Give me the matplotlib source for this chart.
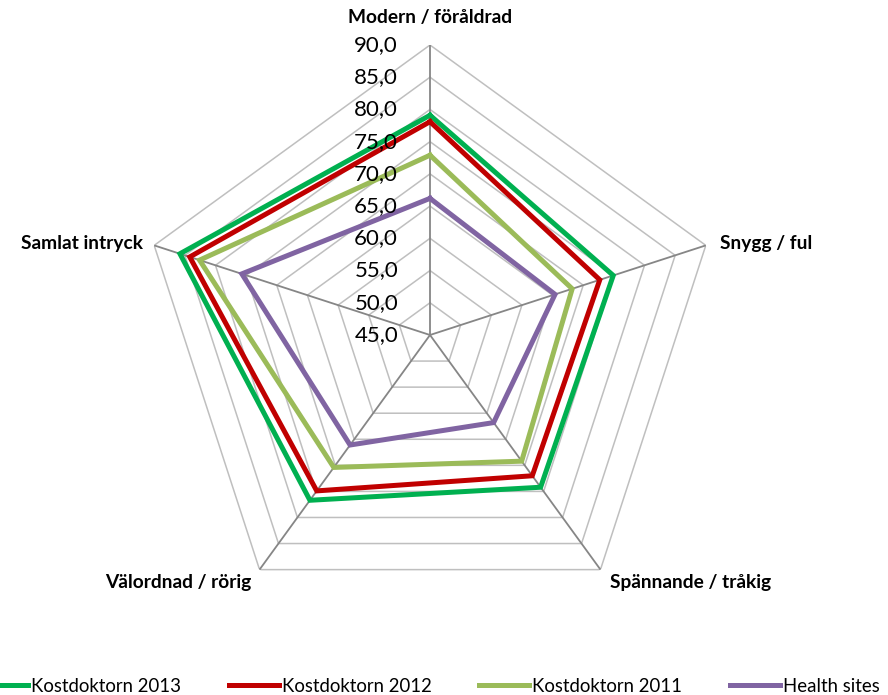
import numpy as np
import matplotlib
matplotlib.use("Agg")
import matplotlib.pyplot as plt
from matplotlib.lines import Line2D

plt.rcParams['font.family'] = ['Lato', 'DejaVu Sans']

categories = ["Modern / föråldrad", "Snygg / ful", "Spännande / tråkig",
              "Välordnad / rörig", "Samlat intryck"]
series_names = ["Kostdoktorn 2013", "Kostdoktorn 2012", "Kostdoktorn 2011", "Health sites"]
kd2013 = [79.1, 74.9, 74.2, 76.7, 85.8]
kd2012 = [78.1, 72.7, 72.0, 74.9, 84.2]
kd2011 = [72.9, 68.2, 69.2, 70.4, 82.6]
health = [66.2, 65.4, 61.8, 66.1, 75.7]
tick_values = [45, 50, 55, 60, 65, 70, 75, 80, 85, 90]
tick_labels = ["45,0", "50,0", "55,0", "60,0", "65,0", "70,0", "75,0", "80,0", "85,0", "90,0"]
colors = ["#00B050", "#C00000", "#9BBB59", "#8064A2"]

W, H = 888, 695
fig = plt.figure(figsize=(W / 100, H / 100), dpi=100)
cx, cy, R = 430, 335, 290
ax = fig.add_axes([(cx - R) / W, (H - cy - R) / H, 2 * R / W, 2 * R / H], projection='polar')
ax.set_theta_offset(np.pi / 2)
ax.set_theta_direction(-1)
ax.set_ylim(45, 90)
ax.set_xticks([])
ax.set_yticks([])
ax.grid(False)
ax.spines['polar'].set_visible(False)
ax.patch.set_alpha(0)

n = len(categories)
theta = np.arange(n) * 2 * np.pi / n
theta_c = np.append(theta, theta[0])

# rings
for v in tick_values[1:]:
    ax.plot(theta_c, [v] * (n + 1), color="#BFBFBF", lw=1.1, zorder=1)
# spokes
for t in theta:
    ax.plot([t, t], [45, 90], color="#868686", lw=1.3, zorder=2)

for vals, col, name in zip([kd2013, kd2012, kd2011, health], colors, series_names):
    ax.plot(theta_c, list(vals) + [vals[0]], color=col, lw=3.6, zorder=3,
            solid_joinstyle='miter', label=name)

# tick labels along top spoke
for v, lab in zip(tick_values, tick_labels):
    ax.annotate(lab, xy=(0, v), xytext=(-23, 0), textcoords='offset points',
                ha='right', va='center', fontsize=16, color='#000000', zorder=5)

# category labels
offsets = [(0, 20, 'center'), (10, 1.5, 'left'), (7, -9, 'left'),
           (-6, -9, 'right'), (-8, 1.5, 'right')]
for t, lab, (dx, dy, ha) in zip(theta, categories, offsets):
    ax.annotate(lab, xy=(t, 90), xytext=(dx, dy), textcoords='offset points',
                ha=ha, va='center', fontsize=13.8, fontweight='bold', annotation_clip=False)

handles = [Line2D([], [], color=c, lw=3.6) for c in colors]
fig.legend(handles, series_names, loc='center left', bbox_to_anchor=(-22 / W, 1 - 686 / H),
           ncol=4, frameon=False, fontsize=13.4, handlelength=2.7, handletextpad=0.16,
           columnspacing=2.55, borderpad=0, borderaxespad=0)

fig.savefig("out.png", dpi=100)
